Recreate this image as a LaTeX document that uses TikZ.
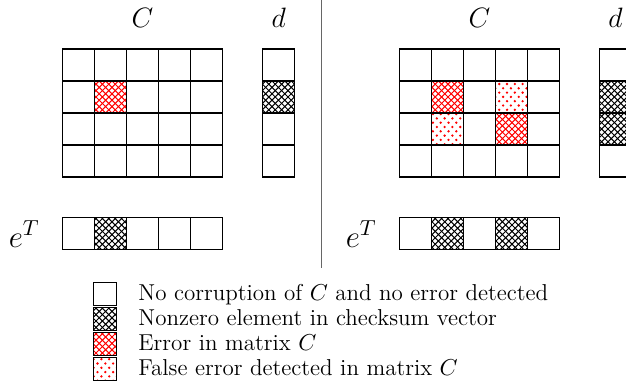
\RequirePackage{fix-cm}
\documentclass[tikz,border=0pt]{standalone}
\usepackage{fontspec}
\usetikzlibrary{patterns}
\pgfdeclarepatternformonly{reddots}{\pgfqpoint{-0.7pt}{-0.7pt}}{\pgfqpoint{2.7pt}{2.9pt}}{\pgfqpoint{3.9pt}{4.3pt}}{%
  \pgfpathcircle{\pgfqpoint{0pt}{0pt}}{0.65pt}%
  \pgfpathcircle{\pgfqpoint{1.95pt}{2.15pt}}{0.65pt}%
  \pgfusepath{fill}}
\pgfdeclarepatternformonly{mycross}{\pgfqpoint{-0.5pt}{-0.5pt}}{\pgfqpoint{3.7pt}{3.7pt}}{\pgfqpoint{3.2pt}{3.2pt}}{%
  \pgfsetlinewidth{0.5pt}%
  \pgfpathmoveto{\pgfqpoint{0pt}{0pt}}\pgfpathlineto{\pgfqpoint{3.25pt}{3.25pt}}%
  \pgfpathmoveto{\pgfqpoint{0pt}{3.2pt}}\pgfpathlineto{\pgfqpoint{3.25pt}{-0.05pt}}%
  \pgfusepath{stroke}}
\tikzset{
  cell/.style={draw=black, line width=0.7pt, minimum size=16pt, inner sep=0pt, outer sep=0pt},
  lgbox/.style={draw=black, line width=0.7pt, minimum size=11.5pt, inner sep=0pt},
  nz/.style={pattern=mycross, pattern color=black},
  err/.style={pattern=mycross, pattern color=red},
  fls/.style={pattern=reddots, pattern color=red},
  lbl/.style={inner sep=0pt, font=\fontsize{14}{16}\selectfont},
  elbl/.style={inner sep=0pt, anchor=base east, font=\fontsize{15.5}{18}\selectfont},
  lgtxt/.style={inner sep=0pt, anchor=base west, font=\fontsize{11.5}{13.8}\selectfont},
  sep/.style={draw=black!60, line width=0.7pt}
}
\begin{document}
\begin{tikzpicture}[x=0.5pt, y=-0.5pt]
\useasboundingbox (0,0) rectangle (626,385);
\clip (0,0) rectangle (626,385);
% ---------- left panel ----------
\foreach \r in {0,...,3}{
  \foreach \c in {0,...,4}{
    \node[cell] (LC-\r-\c) at ({78.3+32*\c},{65+32*\r}) {};
  }
  \node[cell] (LD-\r) at (278.7,{65+32*\r}) {};
}
\foreach \c in {0,...,4}{
  \node[cell] (LE-\c) at ({78.3+32*\c},233.3) {};
}
\node[cell, err] at (LC-1-1) {};
\node[cell, nz] at (LD-1) {};
\node[cell, nz] at (LE-1) {};
\node[lbl, anchor=base] (LCl) at (142.5,28) {$C$};
\node[lbl, anchor=base] (LDl) at (278.7,28) {$d$};
\node[elbl] (LEl) at (40,247) {$e^T$};
% ---------- separator ----------
\coordinate (st) at (321.5,0);
\coordinate (sb) at (321.5,268);
\draw[sep] (st) -- (sb);
% ---------- right panel ----------
\foreach \r in {0,...,3}{
  \foreach \c in {0,...,4}{
    \node[cell] (RC-\r-\c) at ({415.3+32*\c},{65+32*\r}) {};
  }
  \node[cell] (RD-\r) at (615.5,{65+32*\r}) {};
}
\foreach \c in {0,...,4}{
  \node[cell] (RE-\c) at ({415.3+32*\c},233.3) {};
}
\node[cell, err] at (RC-1-1) {};
\node[cell, err] at (RC-2-3) {};
\node[cell, fls] at (RC-1-3) {};
\node[cell, fls] at (RC-2-1) {};
\node[cell, nz] at (RD-1) {};
\node[cell, nz] at (RD-2) {};
\node[cell, nz] at (RE-1) {};
\node[cell, nz] at (RE-3) {};
\node[lbl, anchor=base] (RCl) at (479.5,28) {$C$};
\node[lbl, anchor=base] (RDl) at (615.5,28) {$d$};
\node[elbl] (REl) at (377,247) {$e^T$};
% ---------- legend ----------
\node[lgbox] (K1) at (105,293.8) {};
\node[lgbox, nz] (K2) at (105,318.8) {};
\node[lgbox, err] (K3) at (105,343.8) {};
\node[lgbox, fls] (K4) at (105,368.8) {};
\node[lgtxt] (T1) at (138,300) {No corruption of $C$ and no error detected};
\node[lgtxt] (T2) at (138,325) {Nonzero element in checksum vector};
\node[lgtxt] (T3) at (138,350) {Error in matrix $C$};
\node[lgtxt] (T4) at (138,375) {False error detected in matrix $C$};
\end{tikzpicture}
\end{document}
